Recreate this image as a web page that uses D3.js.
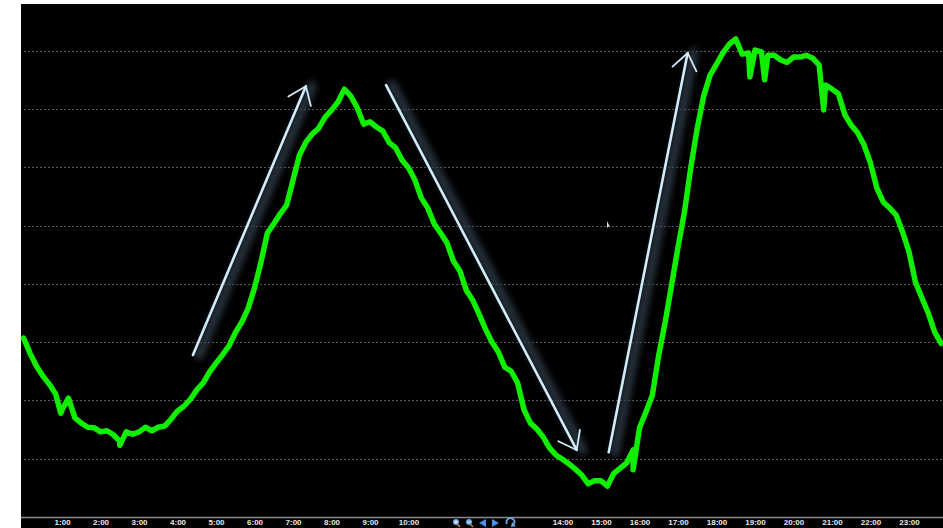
<!DOCTYPE html>
<html>
<head>
<meta charset="utf-8">
<script src="https://cdn.jsdelivr.net/npm/d3@7"></script>
<style>
  body { margin: 0; background: #fff; }
  svg { display: block; }
</style>
</head>
<body>
<div class="svg-div"></div>
<script>
// load readings every 10 minutes from 0:00
var readings = [
  3.07, 2.81, 2.59, 2.42, 2.28, 2.11, 1.84, 2.04, 1.70, 1.61, 1.54, 1.53,
  1.46, 1.48, 1.41, 1.30, 1.46, 1.42, 1.46, 1.54, 1.48, 1.54, 1.56, 1.68,
  1.82, 1.90, 2.02, 2.18, 2.30, 2.49, 2.64, 2.78, 2.93, 3.16, 3.34, 3.58,
  3.93, 4.37, 4.87, 5.03, 5.20, 5.35, 5.78, 6.21, 6.43, 6.57, 6.67, 6.86,
  6.98, 7.12, 7.34, 7.22, 7.02, 6.74, 6.78, 6.69, 6.62, 6.42, 6.33, 6.12,
  5.99, 5.78, 5.47, 5.30, 5.03, 4.87, 4.70, 4.39, 4.22, 3.89, 3.72, 3.48,
  3.22, 3.00, 2.83, 2.57, 2.50, 2.30, 1.84, 1.61, 1.51, 1.37, 1.18, 1.06,
  0.99, 0.91, 0.82, 0.72, 0.57, 0.62, 0.62, 0.53, 0.75, 0.84, 0.93, 1.15,
  1.53, 1.80, 2.09, 2.78, 3.34, 3.98, 4.63, 5.23, 6.00, 6.67, 7.22, 7.58,
  7.77, 7.96, 8.11, 8.20, 7.94, 7.96, 8.01, 7.98, 7.92, 7.92, 7.84, 7.80,
  7.89, 7.89, 7.92, 7.87, 7.75, 7.41, 7.34, 7.26, 6.90, 6.72, 6.59, 6.38,
  6.07, 5.64, 5.40, 5.30, 5.18, 4.89, 4.55, 4.03, 3.76, 3.50, 3.17, 2.98
];
var stepMinutes = 10;

// short drops between the regular readings: [minute, value]
var spikes = [[58, 1.78], [150, 1.23], [950, 0.81], [1132, 7.55], [1155, 7.50], [1247, 6.98]];

// hour labels shown under the chart (11-13 are hidden behind the toolbar)
var hourLabels = [1, 2, 3, 4, 5, 6, 7, 8, 9, 10, 14, 15, 16, 17, 18, 19, 20, 21, 22, 23];
var gridValues = [1, 2, 3, 4, 5, 6, 7, 8];

// trend arrows: [fromMinute, fromValue, toMinute, toValue]
var arrows = [
  [264, 2.78, 440, 7.39],
  [565, 7.41, 862, 1.15],
  [912, 1.11, 1035, 7.96]
];

var w = 943;
var h = 528;

var svg = d3.select(".svg-div")
  .append("svg")
  .attr("width", w)
  .attr("height", h);

var defs = svg.append("defs");
defs.append("filter")
  .attr("id", "glow")
  .attr("x", "-50%").attr("y", "-50%")
  .attr("width", "200%").attr("height", "200%")
  .append("feGaussianBlur")
  .attr("stdDeviation", 3);

// open V head, roughly 20px barbs
defs.append("marker")
  .attr("id", "head")
  .attr("viewBox", "0 0 12 18")
  .attr("refX", 11)
  .attr("refY", 9)
  .attr("markerWidth", 7.5)
  .attr("markerHeight", 11.25)
  .attr("markerUnits", "strokeWidth")
  .attr("orient", "auto")
  .append("path")
  .attr("d", "M1,1.5 L11,9 L1,16.5")
  .attr("fill", "none")
  .attr("stroke", "#d2ecfb")
  .attr("stroke-width", 1.1)
  .attr("stroke-linecap", "round")
  .attr("stroke-linejoin", "round");

// plot background
svg.append("rect")
  .attr("x", 21)
  .attr("y", 4)
  .attr("width", w - 21)
  .attr("height", h - 4)
  .attr("fill", "#000");

var x = d3.scaleLinear().domain([-4, 1433]).range([21, 943]);
var y = d3.scaleLinear().domain([0, 8.8]).range([517, 4]);

// dotted grid
svg.append("g")
  .selectAll("line")
  .data(gridValues)
  .enter()
  .append("line")
  .attr("x1", 24)
  .attr("x2", w)
  .attr("y1", function(d) { return Math.round(y(d)) + 0.5; })
  .attr("y2", function(d) { return Math.round(y(d)) + 0.5; })
  .attr("stroke", "#5a5a5a")
  .attr("stroke-width", 1)
  .attr("stroke-dasharray", "2,2");

// build series
var series = readings.map(function(v, i) { return [i * stepMinutes, v]; });
spikes.forEach(function(s) { series.push(s); });
series.sort(function(a, b) { return a[0] - b[0]; });

var line = d3.line()
  .x(function(d) { return x(d[0]); })
  .y(function(d) { return y(d[1]); });

svg.append("path")
  .datum(series)
  .attr("d", line)
  .attr("fill", "none")
  .attr("stroke", "#11ee00")
  .attr("stroke-width", 5.5)
  .attr("stroke-linejoin", "round")
  .attr("stroke-linecap", "round");

// arrows with soft dark glow on their right side
var ag = svg.append("g");
ag.selectAll("line.glow")
  .data(arrows)
  .enter()
  .append("line")
  .attr("class", "glow")
  .attr("x1", function(d) { return x(d[0]) + 6; })
  .attr("y1", function(d) { return y(d[1]); })
  .attr("x2", function(d) { return x(d[2]) + 6; })
  .attr("y2", function(d) { return y(d[3]); })
  .attr("stroke", "#33404e")
  .attr("stroke-width", 10)
  .attr("stroke-linecap", "round")
  .attr("opacity", 0.75)
  .attr("filter", "url(#glow)");

ag.selectAll("line.arrow")
  .data(arrows)
  .enter()
  .append("line")
  .attr("class", "arrow")
  .attr("x1", function(d) { return x(d[0]); })
  .attr("y1", function(d) { return y(d[1]); })
  .attr("x2", function(d) { return x(d[2]); })
  .attr("y2", function(d) { return y(d[3]); })
  .attr("stroke", "#d2ecfb")
  .attr("stroke-width", 2.6)
  .attr("stroke-linecap", "round")
  .attr("marker-end", "url(#head)");

// x axis
var xAxis = d3.axisBottom(x)
  .tickValues(hourLabels.map(function(hr) { return hr * 60; }))
  .tickFormat(function(d) { return (d / 60) + ":00"; })
  .tickSize(0)
  .tickPadding(2);

var axisG = svg.append("g")
  .attr("transform", "translate(0,517)")
  .call(xAxis);
axisG.select(".domain")
  .attr("stroke", "#8a8a8a")
  .attr("stroke-width", 1.5)
  .attr("d", "M21,0.5H943");
axisG.selectAll("text")
  .attr("fill", "#e8e8e8")
  .attr("font-family", "Liberation Sans, Arial, sans-serif")
  .attr("font-weight", "bold")
  .attr("font-size", 8);

// toolbar icons between 10:00 and 14:00
var tb = svg.append("g").attr("transform", "translate(0,523)");
[456, 469].forEach(function(cx, i) {
  tb.append("line")
    .attr("x1", cx + 1).attr("y1", 1).attr("x2", cx + 4).attr("y2", 4)
    .attr("stroke", "#e07a20").attr("stroke-width", 1.6);
  tb.append("circle")
    .attr("cx", cx).attr("cy", -1).attr("r", 3)
    .attr("fill", "#6aa8e8");
  tb.append("line")
    .attr("x1", cx - 1.8).attr("x2", cx + 1.8).attr("y1", -1).attr("y2", -1)
    .attr("stroke", "#fff").attr("stroke-width", 0.9);
  if (i === 0) {
    tb.append("line")
      .attr("x1", cx).attr("x2", cx).attr("y1", -2.8).attr("y2", 0.8)
      .attr("stroke", "#fff").attr("stroke-width", 0.9);
  }
});
tb.append("path").attr("d", "M479,0 L486,-4 L486,4 Z").attr("fill", "#4f8fe6");
tb.append("path").attr("d", "M492,-4 L499,0 L492,4 Z").attr("fill", "#4f8fe6");
tb.append("path")
  .attr("d", "M507,1 A4,4 0 1,1 514,1")
  .attr("fill", "none").attr("stroke", "#6aa8e8").attr("stroke-width", 1.8);
tb.append("path").attr("d", "M512,-1 L516,3 L511,4 Z").attr("fill", "#6aa8e8");

// mouse pointer left on the screenshot
svg.append("path")
  .attr("d", "M607,221 L607,228 L609,226 L611,229 Z")
  .attr("fill", "#ddd");
</script>
</body>
</html>
